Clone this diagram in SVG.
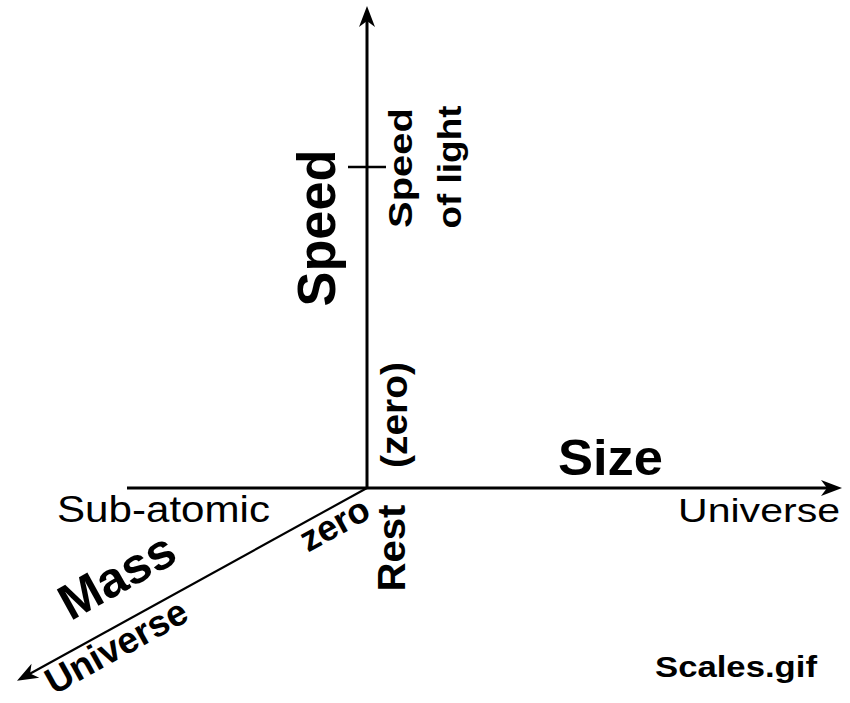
<svg xmlns="http://www.w3.org/2000/svg" width="850" height="703" viewBox="0 0 850 703">
<style>
  .ax { stroke: #000; fill: none; }
  .t { font-family: "Liberation Sans", Arial, sans-serif; fill: #000; }
  .b { font-weight: bold; }
</style>
<defs>
  <marker id="arr" markerUnits="userSpaceOnUse" viewBox="-30 -10 32 20" refX="-8" refY="0" markerWidth="32" markerHeight="20" orient="auto">
    <path d="M0,0 L-21,-8 L-15,0 L-21,8 Z" fill="#000"/>
  </marker>
</defs>
<rect width="850" height="703" fill="#fff"/>
<g id="connectors">
  <line class="ax" x1="127" y1="488" x2="834" y2="488" stroke-width="3" marker-end="url(#arr)"/>
  <line class="ax" x1="367" y1="489" x2="367" y2="14" stroke-width="3" marker-end="url(#arr)"/>
  <line class="ax" x1="348" y1="167" x2="386" y2="167" stroke-width="2.5"/>
  <line class="ax" x1="367" y1="488" x2="24" y2="677" stroke-width="2.2" marker-end="url(#arr)"/>
</g>
<g id="speed-axis">
  <text class="t b" transform="translate(335,228) rotate(-90)" text-anchor="middle" font-size="53" textLength="157" lengthAdjust="spacingAndGlyphs">Speed</text>
  <text class="t b" transform="translate(412,168) rotate(-90)" text-anchor="middle" font-size="34" textLength="120" lengthAdjust="spacingAndGlyphs">Speed</text>
  <text class="t b" transform="translate(461,167) rotate(-90)" text-anchor="middle" font-size="33" textLength="123" lengthAdjust="spacingAndGlyphs">of light</text>
  <text class="t b" transform="translate(407,415) rotate(-90)" text-anchor="middle" font-size="37" textLength="106" lengthAdjust="spacingAndGlyphs">(zero)</text>
  <text class="t b" transform="translate(405,548) rotate(-90)" text-anchor="middle" font-size="38" textLength="87" lengthAdjust="spacingAndGlyphs">Rest</text>
</g>
<g id="size-axis">
  <text class="t b" x="558" y="475" font-size="50" textLength="105" lengthAdjust="spacingAndGlyphs">Size</text>
  <text class="t" x="57" y="522" font-size="37" textLength="213" lengthAdjust="spacingAndGlyphs">Sub-atomic</text>
  <text class="t" x="678" y="522" font-size="33" textLength="162" lengthAdjust="spacingAndGlyphs">Universe</text>
</g>
<g id="mass-axis">
  <text class="t b" transform="translate(336,527) rotate(-29)" text-anchor="middle" y="9" font-size="36">zero</text>
  <text class="t b" transform="translate(117,576) rotate(-29)" text-anchor="middle" y="17" font-size="50">Mass</text>
  <text class="t b" transform="translate(116,646) rotate(-29)" text-anchor="middle" y="13" font-size="37">Universe</text>
</g>
<g id="caption">
  <text class="t b" x="655" y="677" font-size="30" textLength="162" lengthAdjust="spacingAndGlyphs">Scales.gif</text>
</g>
</svg>
